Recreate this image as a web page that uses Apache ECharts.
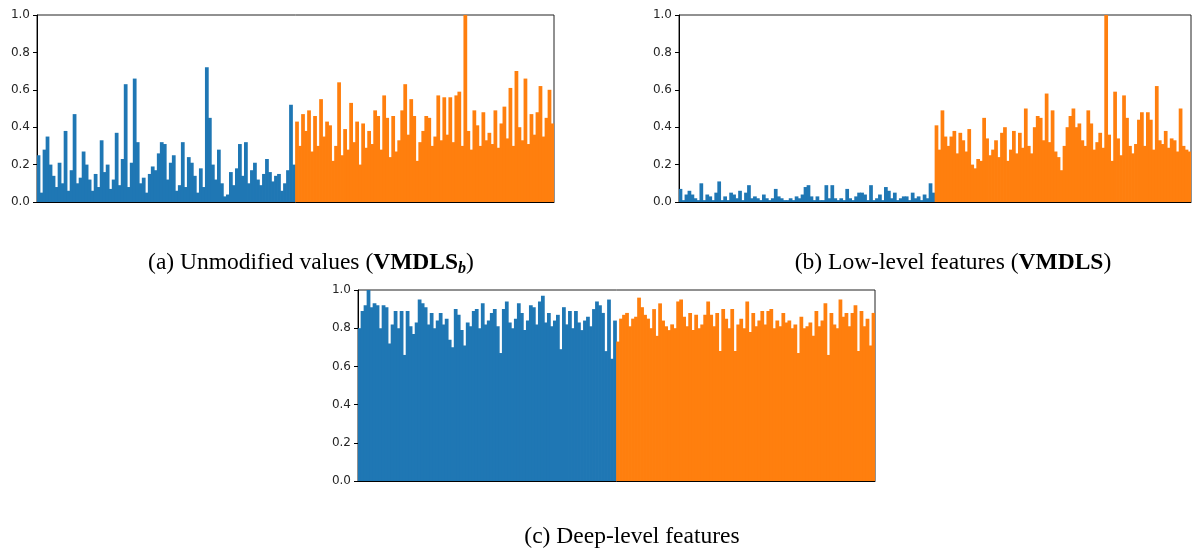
<!DOCTYPE html>
<html>
<head>
<meta charset="utf-8">
<script src="https://cdn.jsdelivr.net/npm/echarts@6/dist/echarts.min.js"></script>
<style>html,body{margin:0;padding:0;background:#fff}#chart{width:1192px;height:551px}</style>
</head>
<body>
<div id="chart"></div>
<script>
// Panel (a) Unmodified values
const blueA = [0.25,0.05,0.28,0.35,0.20,0.14,0.08,0.21,0.10,0.38,0.06,0.17,0.47,0.10,0.13,0.27,0.20,0.12,0.06,0.15,0.08,0.33,0.16,0.20,0.07,0.12,0.37,0.09,0.23,0.63,0.08,0.21,0.66,0.32,0.10,0.13,0.05,0.15,0.19,0.17,0.26,0.32,0.31,0.12,0.21,0.25,0.06,0.09,0.32,0.08,0.24,0.21,0.14,0.05,0.18,0.08,0.72,0.45,0.20,0.12,0.28,0.10,0.03,0.04,0.16,0.09,0.18,0.31,0.14,0.32,0.10,0.17,0.21,0.12,0.09,0.15,0.23,0.16,0.11,0.14,0.15,0.06,0.10,0.17,0.52,0.20];
const orangeA = [0.43,0.30,0.47,0.38,0.49,0.27,0.46,0.30,0.55,0.35,0.43,0.41,0.22,0.30,0.64,0.25,0.39,0.28,0.53,0.32,0.43,0.20,0.42,0.29,0.38,0.31,0.49,0.46,0.28,0.57,0.45,0.24,0.46,0.27,0.33,0.49,0.63,0.36,0.55,0.46,0.22,0.32,0.38,0.46,0.45,0.30,0.35,0.57,0.33,0.56,0.36,0.56,0.32,0.57,0.59,0.30,1.00,0.38,0.28,0.49,0.41,0.30,0.48,0.33,0.37,0.31,0.49,0.29,0.42,0.51,0.34,0.61,0.30,0.70,0.40,0.33,0.66,0.31,0.47,0.36,0.48,0.62,0.35,0.45,0.60,0.42];
// Panel (b) Low-level features
const blueB = [0.07,0.01,0.04,0.06,0.04,0.02,0.01,0.10,0.01,0.04,0.03,0.01,0.05,0.11,0.01,0.03,0.01,0.05,0.04,0.02,0.06,0.01,0.05,0.09,0.02,0.03,0.02,0.01,0.04,0.02,0.01,0.02,0.07,0.03,0.02,0.01,0.01,0.02,0.01,0.03,0.02,0.04,0.08,0.09,0.03,0.01,0.03,0.01,0.01,0.09,0.02,0.09,0.02,0.01,0.02,0.01,0.07,0.02,0.01,0.03,0.05,0.05,0.04,0.01,0.09,0.01,0.02,0.04,0.01,0.08,0.06,0.02,0.05,0.01,0.02,0.03,0.03,0.01,0.05,0.02,0.03,0.01,0.04,0.02,0.10,0.05];
const orangeB = [0.41,0.28,0.49,0.35,0.30,0.35,0.38,0.26,0.37,0.33,0.27,0.39,0.20,0.18,0.23,0.22,0.45,0.34,0.25,0.28,0.33,0.24,0.37,0.40,0.22,0.28,0.38,0.26,0.37,0.29,0.50,0.30,0.26,0.40,0.46,0.45,0.33,0.58,0.32,0.49,0.27,0.24,0.17,0.30,0.40,0.46,0.50,0.40,0.42,0.33,0.30,0.49,0.42,0.28,0.32,0.37,0.29,1.00,0.36,0.22,0.59,0.34,0.25,0.57,0.45,0.30,0.26,0.31,0.44,0.48,0.30,0.48,0.44,0.28,0.62,0.33,0.31,0.38,0.29,0.34,0.33,0.27,0.50,0.30,0.28,0.27];
// Panel (c) Deep-level features
const blueC = [0.80,0.89,0.92,1.00,0.91,0.93,0.92,0.80,0.92,0.91,0.72,0.82,0.89,0.80,0.89,0.66,0.89,0.81,0.77,0.83,0.95,0.93,0.91,0.82,0.88,0.80,0.84,0.88,0.82,0.85,0.74,0.70,0.90,0.87,0.79,0.71,0.83,0.81,0.89,0.90,0.80,0.93,0.82,0.84,0.88,0.90,0.81,0.67,0.90,0.94,0.83,0.80,0.85,0.93,0.88,0.79,0.84,0.92,0.91,0.82,0.94,0.97,0.83,0.88,0.81,0.84,0.87,0.69,0.91,0.82,0.89,0.80,0.89,0.83,0.79,0.84,0.86,0.81,0.90,0.94,0.92,0.88,0.68,0.95,0.64,0.84];
const orangeC = [0.73,0.85,0.87,0.88,0.81,0.85,0.86,0.96,0.91,0.87,0.85,0.80,0.90,0.76,0.93,0.84,0.81,0.79,0.82,0.80,0.94,0.95,0.86,0.81,0.88,0.79,0.87,0.80,0.82,0.87,0.94,0.87,0.81,0.88,0.68,0.90,0.85,0.80,0.90,0.68,0.82,0.85,0.80,0.94,0.78,0.88,0.81,0.84,0.89,0.82,0.89,0.90,0.80,0.84,0.81,0.88,0.83,0.84,0.80,0.82,0.67,0.86,0.80,0.81,0.83,0.76,0.89,0.81,0.84,0.93,0.66,0.88,0.82,0.80,0.95,0.86,0.88,0.81,0.88,0.92,0.68,0.89,0.81,0.85,0.71,0.88];

const yTickValues = [0, 0.2, 0.4, 0.6, 0.8, 1.0];
const captions = ['(a) Unmodified values ({b|VMDLS}{s|b})', '(b) Low-level features ({b|VMDLS})', '(c) Deep-level features'];

const BLUE = '#1f77b4', ORANGE = '#ff7f0e';
const panels = [
  {blue: blueA, orange: orangeA, grid: {left: 37, top: 15, width: 517, height: 187}},
  {blue: blueB, orange: orangeB, grid: {left: 679, top: 15, width: 512, height: 187}},
  {blue: blueC, orange: orangeC, grid: {left: 358, top: 290, width: 517, height: 191}}
];

const grids = [], xAxes = [], yAxes = [], series = [];
panels.forEach((p, i) => {
  const n = p.blue.length + p.orange.length;
  const cats = Array.from({length: n}, (_, k) => String(k));
  grids.push(Object.assign({show: true, borderColor: '#222', borderWidth: 1, backgroundColor: 'transparent'}, p.grid));
  xAxes.push({
    type: 'category', gridIndex: i, data: cats, boundaryGap: true,
    axisLine: {show: true, lineStyle: {color: '#000', width: 1}},
    axisTick: {show: false}, axisLabel: {show: false}, splitLine: {show: false}
  });
  yAxes.push({
    type: 'value', gridIndex: i, min: yTickValues[0], max: yTickValues[yTickValues.length - 1], interval: 0.2,
    axisLine: {show: true, lineStyle: {color: '#000', width: 1}},
    axisTick: {show: true, length: 4, lineStyle: {color: '#000'}},
    axisLabel: {show: true, margin: 7, fontSize: 12, color: '#262626', fontFamily: 'DejaVu Sans', formatter: v => v.toFixed(1)},
    splitLine: {show: false}
  });
  const blueData = p.blue.concat(p.orange.map(() => '-'));
  const orangeData = p.blue.map(() => '-').concat(p.orange);
  series.push({type: 'bar', xAxisIndex: i, yAxisIndex: i, data: blueData, itemStyle: {color: BLUE}, barWidth: '125%', barGap: '-100%', silent: true, animation: false});
  series.push({type: 'bar', xAxisIndex: i, yAxisIndex: i, data: orangeData, itemStyle: {color: ORANGE}, barWidth: '125%', barGap: '-100%', silent: true, animation: false});
});

const capStyle = (txt, x, y) => ({
  type: 'text', silent: true,
  style: {
    text: txt, x: x, y: y, align: 'center', verticalAlign: 'middle',
    fontFamily: 'Liberation Serif', fontSize: 23.5, fill: '#000', lineHeight: 28,
    rich: {
      b: {fontFamily: 'Liberation Serif', fontSize: 23.5, fontWeight: 'bold', lineHeight: 28, fill: '#000'},
      s: {fontFamily: 'Liberation Serif', fontSize: 16, fontWeight: 'bold', fontStyle: 'italic', lineHeight: 16, verticalAlign: 'bottom', fill: '#000'}
    }
  }
});

const chart = echarts.init(document.getElementById('chart'), null, {renderer: 'canvas'});
chart.setOption({
  animation: false,
  backgroundColor: '#fff',
  grid: grids, xAxis: xAxes, yAxis: yAxes, series: series,
  graphic: [capStyle(captions[0], 311, 263), capStyle(captions[1], 953, 263), capStyle(captions[2], 632, 537)]
});
</script>
</body>
</html>
